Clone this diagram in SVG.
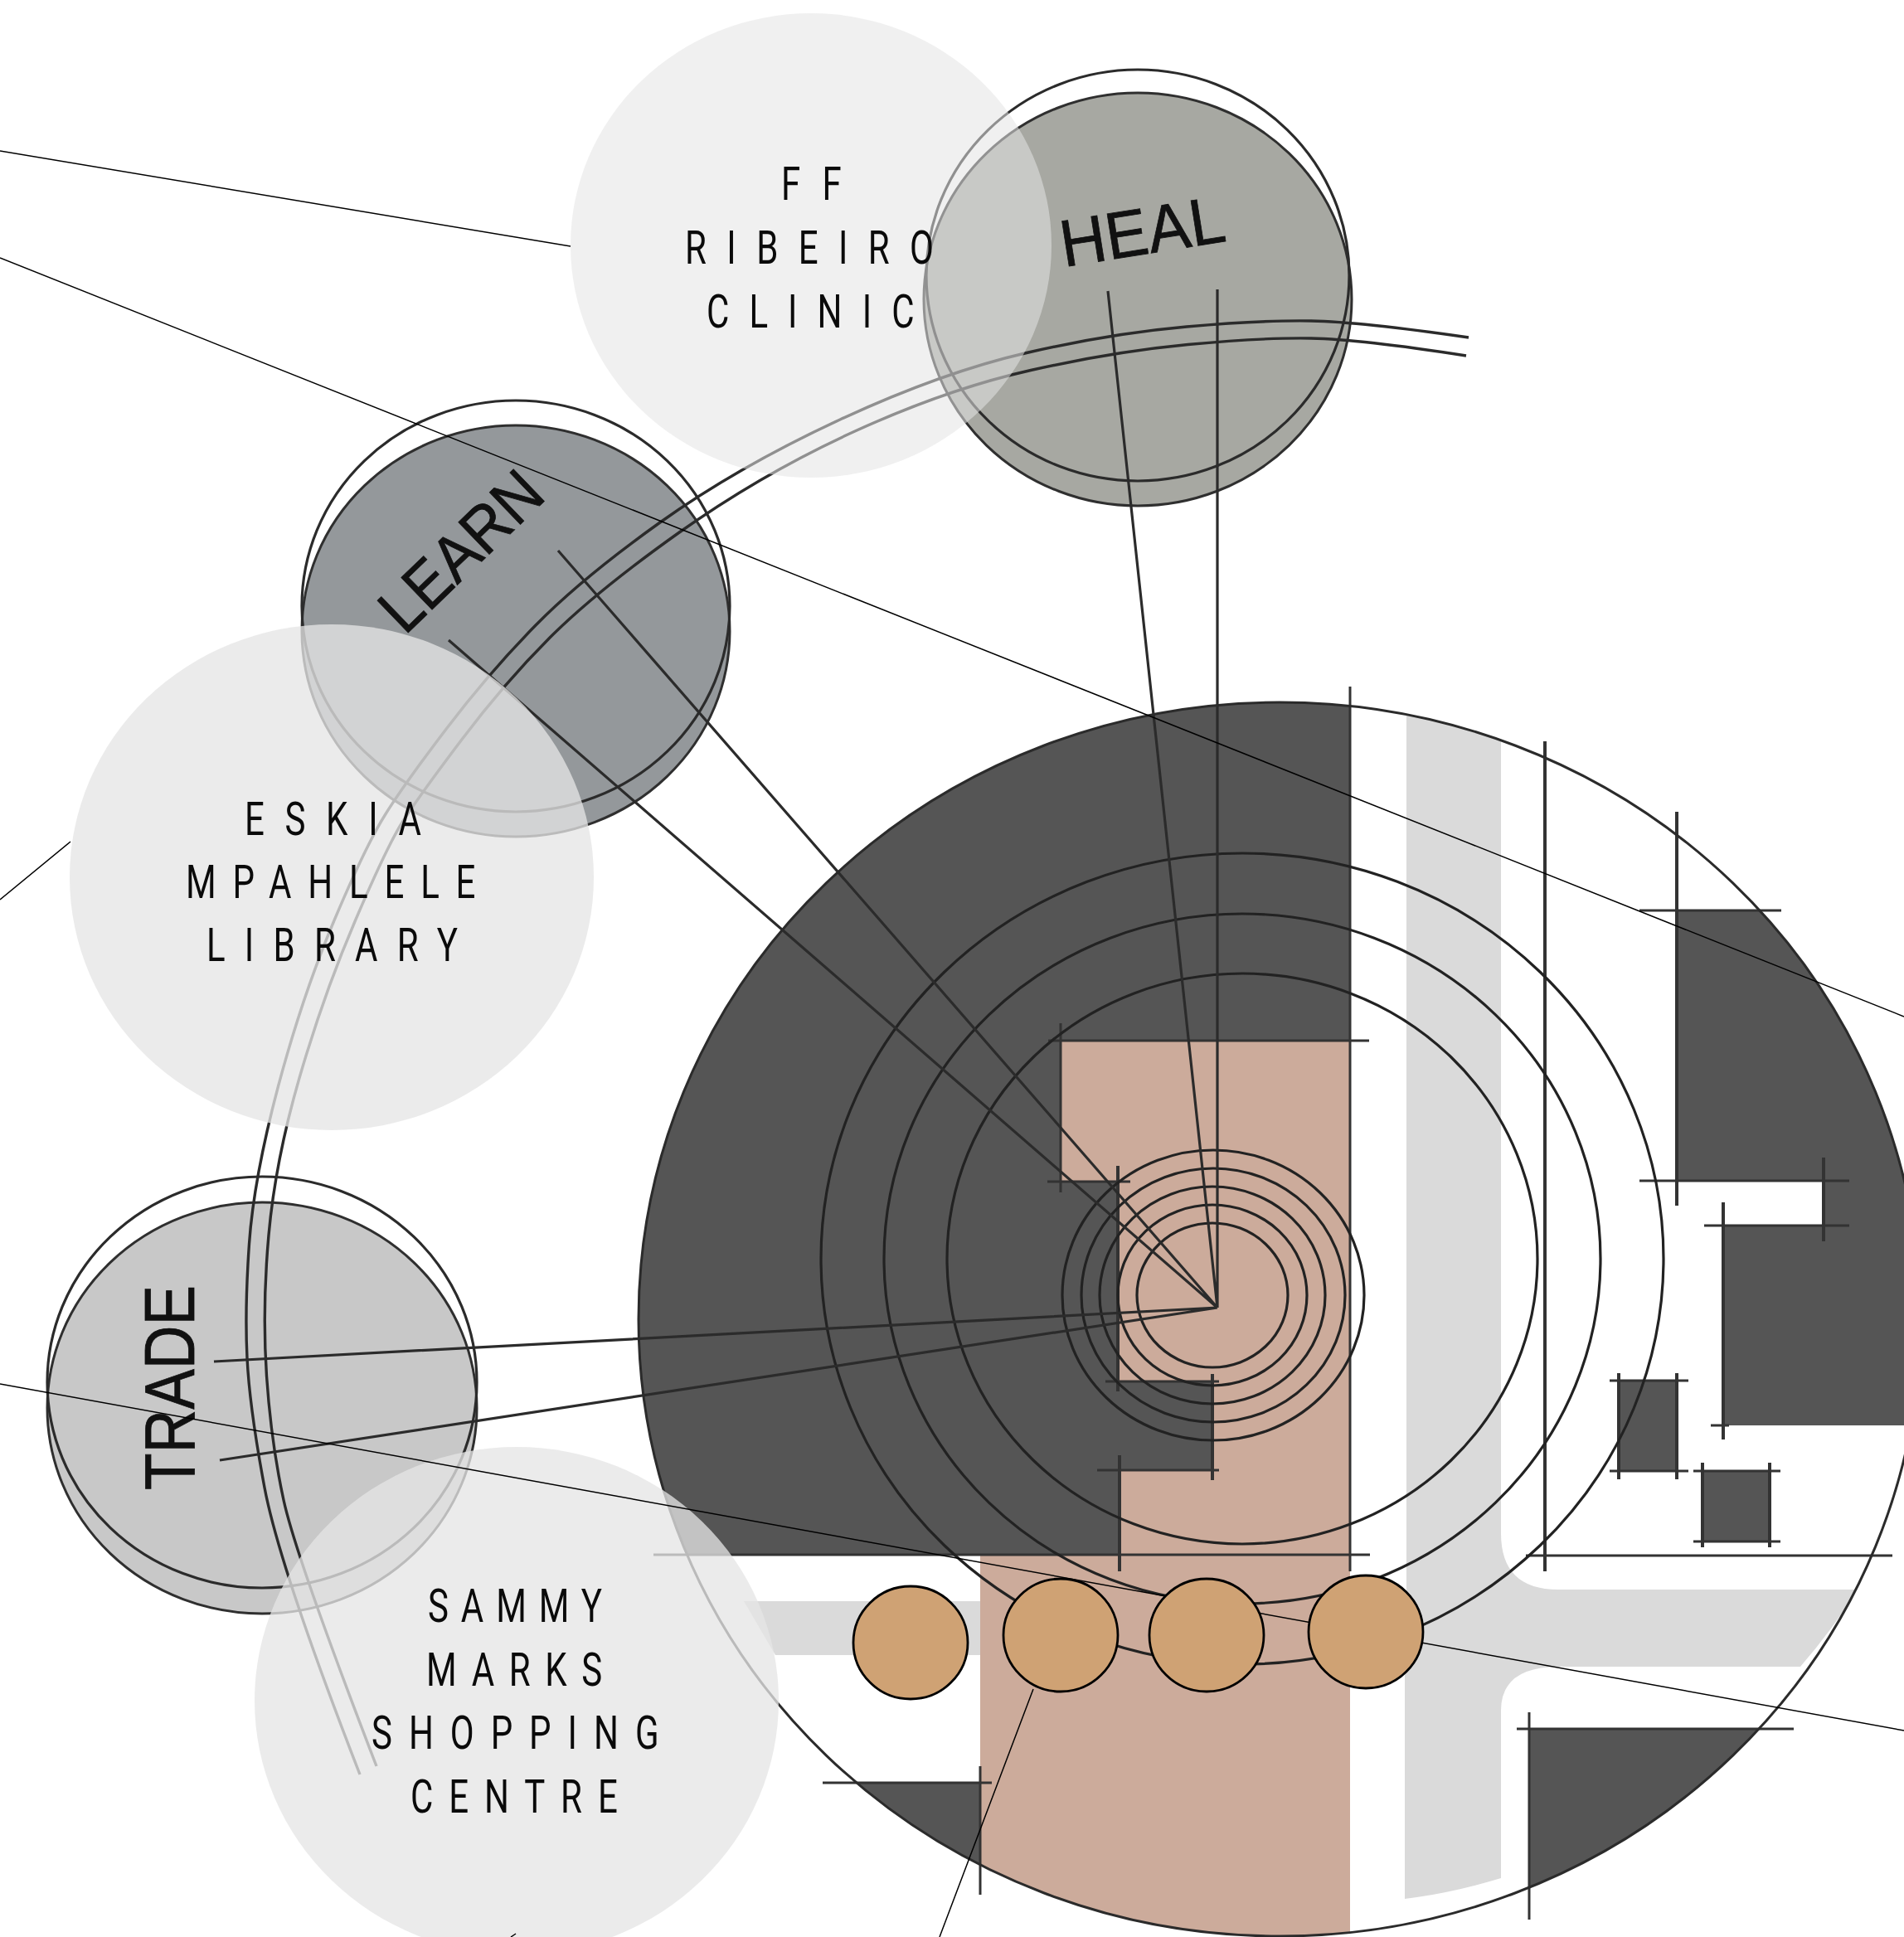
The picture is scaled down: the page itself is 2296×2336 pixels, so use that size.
<svg xmlns="http://www.w3.org/2000/svg" width="2296" height="2336" viewBox="0 0 2296 2336">
<style>
.dark{fill:#555555;stroke:none}
.ln{fill:none;stroke:#2b2b2b;stroke-width:3}
.tk{stroke:#333;stroke-width:3;fill:none}
.tv{stroke:#333;stroke-width:4;fill:none}
.ring{fill:none;stroke:#222;stroke-width:3.2}
.arc{fill:none;stroke:#2b2b2b;stroke-width:3.4}
.rad{fill:none;stroke:#2b2b2b;stroke-width:3.2}
.thin{fill:none;stroke:#000;stroke-width:1.5}
.sk{fill:none;stroke:#2b2b2b;stroke-width:3.2}
.wm{font-family:"Liberation Sans",Arial,sans-serif;fill:#111;stroke:#111;stroke-width:.8}
.lab{font-family:"Roboto","Liberation Sans",sans-serif;font-weight:400;font-size:56px;fill:#0a0a0a}
.tan{fill:#cfa274;stroke:#000;stroke-width:2.8}
.bub{fill:#e5e5e5;fill-opacity:.77}
</style>
<defs><clipPath id="site"><ellipse cx="1543" cy="1591" rx="773" ry="744"/></clipPath></defs>
<rect width="2296" height="2336" fill="#fff"/>
<g id="site-plan">
<g clip-path="url(#site)">
<path fill="#dadada" d="M1696 840H1810V1849Q1810 1917 1879 1917H2240Q2210 1965 2171 2010H1880Q1810 2010 1810 2063V2265Q1750 2283 1694 2290V2000H1696Z"/>
<path fill="#dadada" d="M897 1931H1200V1996H935Z"/>
<path fill="#ccab9b" d="M1278 1255H1628V2340H1182V1875H1348V1773H1462V1666H1348V1425H1278Z"/>
<path class="dark" d="M700 800H1628V1255H1278V1425H1348V1666H1462V1773H1348V1875H700Z"/>
<path class="dark" d="M2022 1098H2400V1719H2078V1478H2199V1424H2022Z"/>
<path class="dark" d="M1952 1665H2022V1774H1952ZM2053 1774H2134V1859H2053ZM1844 2085H2300V2340H1844ZM900 2150H1182V2340H900Z"/>
</g>
<g>
<path class="tk" d="M1264 1255H1651M1263 1425H1363M1333 1666H1470M1323 1773H1470M788 1875H1652M1840 1876H2282M1977 1098H2148M1977 1424H2230M2055 1478H2230M2063 1719H2085M1941 1665H2036M1941 1774H2036M2042 1774H2147M2042 1859H2147M1829 2085H2163M992 2150H1196"/>
<path class="tk" d="M1628 828V1895M1279 1234V1438M1182 2130V2285M1844 2065V2315"/>
<path class="tv" d="M1348 1406V1678M1462 1657V1785M1350 1755V1895M1863 894V1895M2022 979V1454M2078 1450V1736M2199 1396V1497M1952 1656V1784M2022 1656V1784M2053 1764V1866M2134 1764V1866"/>
</g>
<ellipse class="ln" cx="1543" cy="1591" rx="773" ry="744"/>
<g id="rings">
<ellipse class="ring" cx="1498" cy="1518" rx="356" ry="344"/>
<ellipse class="ring" cx="1498" cy="1518" rx="432" ry="416"/>
<ellipse class="ring" cx="1498" cy="1518" rx="508" ry="489"/>
<ellipse class="ring" cx="1462" cy="1562" rx="91" ry="87"/>
<ellipse class="ring" cx="1462" cy="1562" rx="114" ry="109"/>
<ellipse class="ring" cx="1462" cy="1562" rx="136" ry="131"/>
<ellipse class="ring" cx="1463" cy="1562" rx="159" ry="153"/>
<ellipse class="ring" cx="1463" cy="1562" rx="182" ry="175"/>
</g>
</g>
<g id="heal">
<ellipse cx="1372" cy="361" rx="258" ry="249" fill="#a7a8a2" stroke="#2f2f2f" stroke-width="3"/>
<ellipse class="sk" cx="1372" cy="332" rx="255" ry="248"/>
<text class="wm" x="1283" y="322" font-size="80" textLength="200" lengthAdjust="spacingAndGlyphs" transform="rotate(-9 1283 322)">HEAL</text>
</g>
<g id="learn">
<ellipse cx="622" cy="761" rx="258" ry="248" fill="#94989b" stroke="#2f2f2f" stroke-width="3"/>
<ellipse class="sk" cx="622" cy="731" rx="258" ry="248"/>
<text class="wm" x="488" y="767" font-size="78" textLength="240" lengthAdjust="spacingAndGlyphs" transform="rotate(-44 488 767)">LEARN</text>
</g>
<g id="trade">
<ellipse cx="316" cy="1698" rx="259" ry="248" fill="#c8c8c8" stroke="#2f2f2f" stroke-width="3"/>
<ellipse class="sk" cx="316" cy="1667" rx="259" ry="248"/>
<text class="wm" x="234" y="1797" font-size="85" textLength="247" lengthAdjust="spacingAndGlyphs" transform="rotate(-90 234 1797)">TRADE</text>
</g>
<g id="connectors-radial">
<path class="rad" d="M1468 1577V349M1468 1577L1336 351M1468 1577L673 664M1468 1577L541 772M1468 1577L258 1642M1468 1577L265 1761"/>
<path class="arc" d="M1771 407Q1640 388 1581 387Q1522 386 1431 394Q1340 402 1238 425.5Q1136 449 1013 506Q890 563 796 630Q702 697 646 754Q590 811 539 878Q488 945 464.5 982.5Q441 1020 403 1110Q365 1200 335.5 1310Q306 1421 300.5 1500Q295 1579 298 1638Q301 1698 319 1794Q337 1890 434 2140"/>
<path class="arc" d="M1768 429Q1640 409 1581 408Q1522 407 1432.5 415.5Q1343 424 1243 446.5Q1143 469 1031 520Q919 571 818.5 642.5Q718 714 663 769Q608 824 556 893Q504 962 485.5 991Q467 1020 428.5 1110Q390 1200 361 1300Q332 1400 324 1489.5Q316 1579 321.5 1659.5Q327 1740 342 1809Q357 1878 454 2130"/>
</g>
<g id="ff-ribeiro-clinic">
<ellipse cx="978" cy="296" rx="290" ry="280" fill="#e4e4e4" fill-opacity=".55"/>
<text class="lab" transform="translate(942 241) scale(.75 1)" textLength="97">FF</text>
<text class="lab" transform="translate(826 318) scale(.75 1)" textLength="400">RIBEIRO</text>
<text class="lab" transform="translate(852 395) scale(.75 1)" textLength="334">CLINIC</text>
</g>
<g id="eskia-mpahlele-library">
<ellipse class="bub" cx="400" cy="1058" rx="316" ry="305"/>
<text class="lab" transform="translate(295 1007) scale(.75 1)" textLength="284">ESKIA</text>
<text class="lab" transform="translate(224 1083) scale(.75 1)" textLength="466">MPAHLELE</text>
<text class="lab" transform="translate(249 1159) scale(.75 1)" textLength="404">LIBRARY</text>
</g>
<g id="sammy-marks-shopping-centre">
<ellipse class="bub" cx="623" cy="2051" rx="316" ry="306"/>
<text class="lab" transform="translate(516 1956) scale(.75 1)" textLength="280">SAMMY</text>
<text class="lab" transform="translate(514 2033) scale(.75 1)" textLength="283">MARKS</text>
<text class="lab" transform="translate(448 2109) scale(.75 1)" textLength="462">SHOPPING</text>
<text class="lab" transform="translate(495 2186) scale(.75 1)" textLength="333">CENTRE</text>
</g>
<g id="connectors">
<path class="thin" d="M0 182L688 297M0 311L2296 1226M0 1085L85 1015M0 1669L2296 2087M1246 2037L1133 2336M622 2332L616 2336"/>
</g>
<g id="tan-1"><ellipse class="tan" cx="1098" cy="1981" rx="69" ry="68"/></g>
<g id="tan-2"><ellipse class="tan" cx="1279" cy="1972" rx="69" ry="68"/></g>
<g id="tan-3"><ellipse class="tan" cx="1455" cy="1972" rx="69" ry="68"/></g>
<g id="tan-4"><ellipse class="tan" cx="1647" cy="1968" rx="69" ry="68"/></g>
</svg>
